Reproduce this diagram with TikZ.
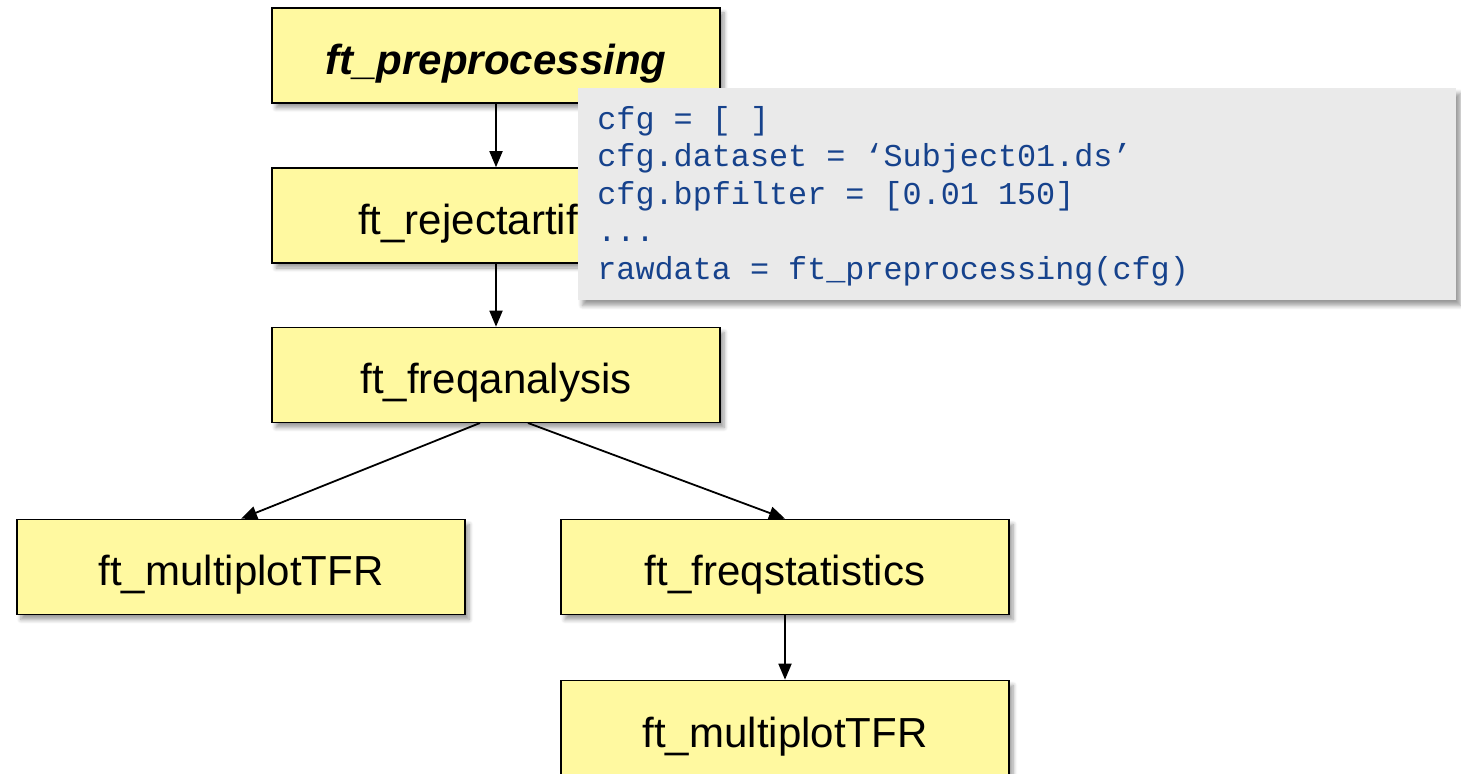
\documentclass[tikz,border=0pt]{standalone}
\usepackage{fontspec}
\setmainfont{Liberation Sans}
\newfontfamily\codefont{Liberation Mono}
\newcommand\csp{\hspace*{0.6em}}
\usetikzlibrary{arrows.meta,shadows.blur}
\definecolor{boxyellow}{RGB}{255,249,160}
\definecolor{codegray}{RGB}{234,234,234}
\definecolor{codeblue}{RGB}{22,66,140}
\tikzset{
  fbox/.style={draw=black, line width=0.8pt, fill=boxyellow, minimum width=224pt, minimum height=47.5pt,
    inner sep=0pt, text height=19pt, text depth=0pt, font=\fontsize{21}{25}\selectfont,
    blur shadow={shadow xshift=2pt, shadow yshift=-2.5pt, shadow blur steps=6, shadow opacity=40}},
  codebox/.style={fill=codegray, anchor=north west, minimum width=439pt, minimum height=106pt,
    text width=420pt, inner xsep=9.5pt, align=left, text=codeblue,
    font=\codefont\fontsize{15.9}{18.8}\selectfont,
    blur shadow={shadow xshift=2pt, shadow yshift=-2.5pt, shadow blur steps=6, shadow opacity=40}},
  conn/.style={line width=0.9pt, -{Triangle[length=8pt,width=6.5pt]}}
}
\begin{document}
\begin{tikzpicture}[x=0.5pt,y=-0.5pt]
\useasboundingbox (0,0) rectangle (1461,774);
\begin{scope}
\clip (0,0) rectangle (1461,774);
\node[fbox] (pre) at (496,55.5) {\textbf{\textit{ft\_preprocessing}}};
\node[fbox] (rej) at (496,215.5) {ft\_rejectartifact};
\node[fbox] (freq) at (496,375) {ft\_freqanalysis};
\node[fbox] (mp1) at (241,567) {ft\_multiplotTFR};
\node[fbox] (stat) at (785,567) {ft\_freqstatistics};
\node[fbox] (mp2) at (785,728) {ft\_multiplotTFR};
\coordinate (fl) at (480,423);
\coordinate (fr) at (528,423);
\draw[conn] (pre) -- (rej);
\draw[conn] (rej) -- (freq);
\draw[conn] (fl) -- (mp1.north);
\draw[conn] (fr) -- (stat.north);
\draw[conn] (stat) -- (mp2);
\node[codebox] (code) at (578,88) {\strut cfg\csp=\csp[\csp]\\
cfg.dataset\csp=\csp‘Subject01.ds’\\
cfg.bpfilter\csp=\csp[0.01\csp150]\\
...\\
rawdata\csp=\csp ft\_preprocessing(cfg)};
\end{scope}
\end{tikzpicture}
\end{document}
